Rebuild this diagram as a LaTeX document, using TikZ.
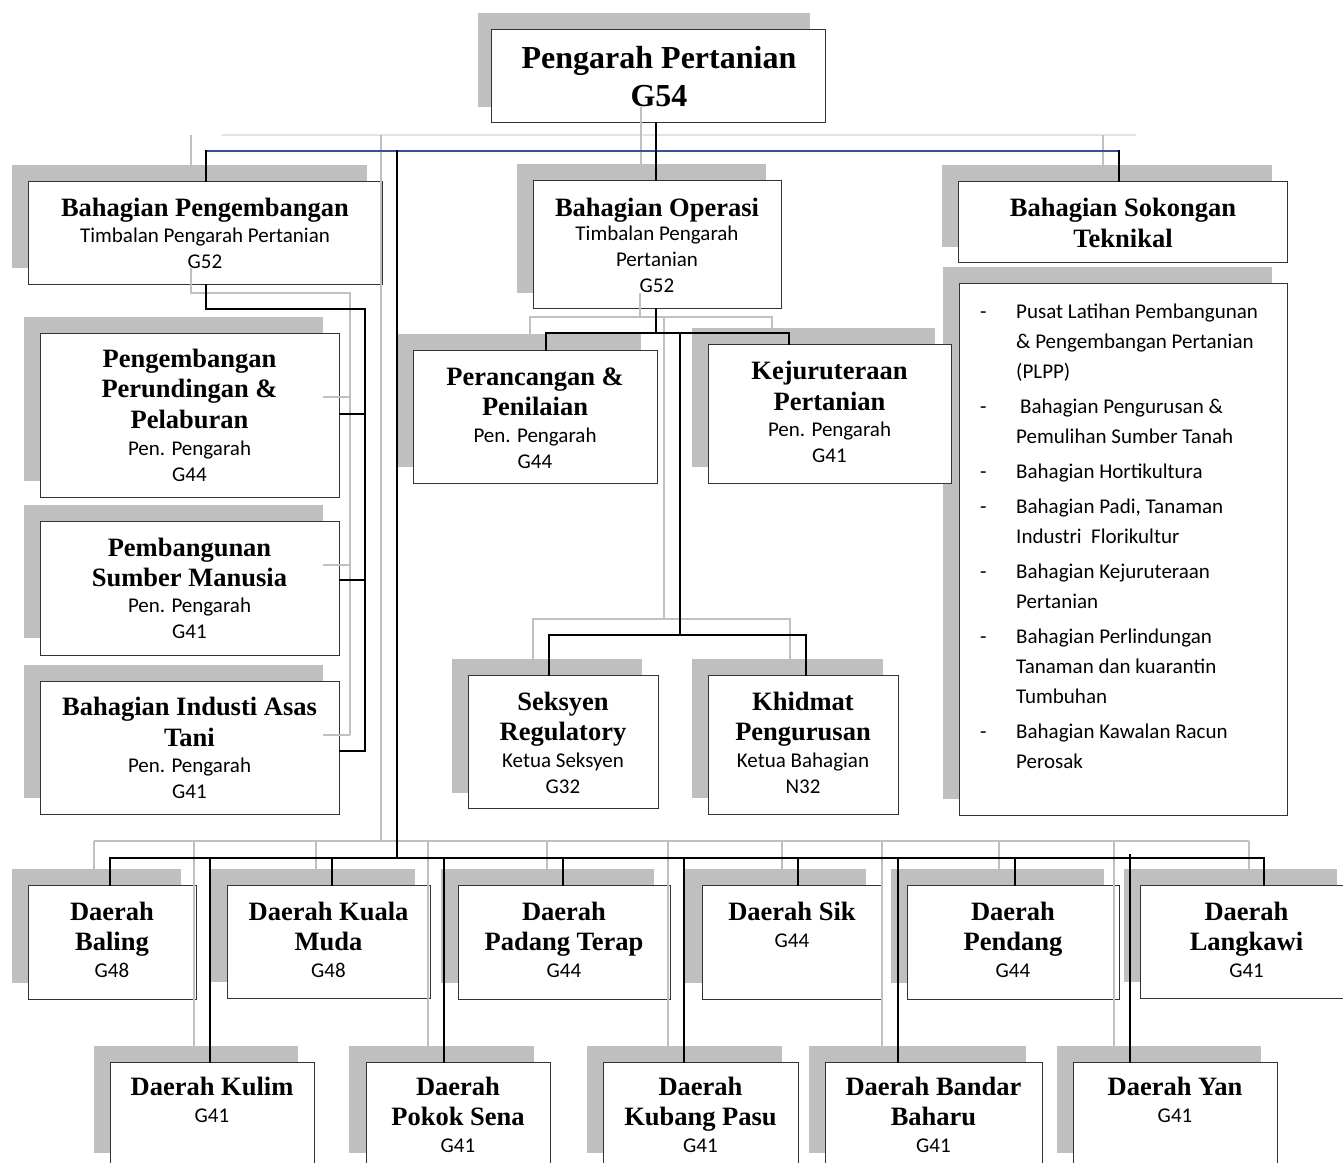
\documentclass[tikz,border=0pt]{standalone}
\usepackage{fontspec}
\setmainfont{Liberation Serif}
\newfontfamily\carl{Carlito}
\definecolor{shc}{HTML}{BFBFBF}
\definecolor{gcl}{HTML}{C0C0C0}
\definecolor{lgcl}{HTML}{E3E3E3}
\definecolor{bluec}{HTML}{2F5597}
\newcommand\mytt{\fontsize{32}{38}\selectfont\bfseries}
\newcommand\myhd{\fontsize{26.5}{30.5}\selectfont\bfseries}
\newcommand\mysb{\carl\fontsize{21}{26}\selectfont}
\newcommand\mylist{\carl\fontsize{21}{30}\selectfont}
\newcommand\orgbox[5]{\node[box, minimum width=#4pt-#2pt, minimum height=#5pt-#3pt] (#1) at (#2,#3) {};}
\newcommand\shd[4]{\fill[shc] (#1,#2) rectangle (#3,#4);}
\newcommand\hdt[4]{\node[hd] (#1) at (#2,#3-21.35) {\strut #4};}
\newcommand\sbt[4]{\node[sb] (#1) at (#2,#3-18.2) {\strut #4};}
\begin{document}
\begin{tikzpicture}[x=1pt,y=-1pt,
 box/.style={draw=black!80, line width=1.2pt, fill=white, inner sep=0pt, anchor=north west},
 tt/.style={font=\mytt, align=center, inner sep=0pt, anchor=north},
 hd/.style={font=\myhd, align=center, inner sep=0pt, anchor=north},
 sb/.style={font=\mysb, align=center, inner sep=0pt, anchor=north},
 conn/.style={line width=2pt, draw=black, line cap=rect},
 bconn/.style={line width=2pt, draw=bluec},
 gconn/.style={line width=1.6pt, draw=gcl},
 lconn/.style={line width=2pt, draw=lgcl}]
\useasboundingbox (0,0) rectangle (1343,1162);
\fill[white] (0,0) rectangle (1343,1162);
\clip (0,0) rectangle (1343,1162);
% shadows
\shd{478}{13}{810}{107}
\shd{12}{165}{367}{268}
\shd{517}{164}{766}{293}
\shd{942}{165}{1272}{247}
\shd{943}{267}{1272}{799}
\shd{24}{317}{323}{481}
\shd{24}{505}{323}{638}
\shd{24}{665}{323}{798}
\shd{397}{334}{641}{467}
\shd{692}{328}{935}{467}
\shd{452}{659}{642}{793}
\shd{692}{659}{883}{798}
\shd{12}{869}{181}{983}
\shd{211}{869}{415}{982}
\shd{441}{869}{654}{983}
\shd{685}{869}{866}{983}
\shd{891}{869}{1104}{983}
\shd{1124}{869}{1337}{982}
\shd{94}{1046}{298}{1153}
\shd{349}{1046}{534}{1153}
\shd{587}{1046}{782}{1153}
\shd{809}{1046}{1026}{1153}
\shd{1057}{1046}{1261}{1153}
% boxes
\orgbox{title}{491}{29}{825}{122}
\orgbox{peng}{28}{181}{382}{284}
\orgbox{oper}{533}{180}{781}{308}
\orgbox{sok}{958}{181}{1287}{262}
\orgbox{list}{959}{283}{1287}{815}
\orgbox{pa}{40}{333}{339}{497}
\orgbox{pb}{40}{521}{339}{655}
\orgbox{pc}{40}{681}{339}{814}
\orgbox{per}{413}{350}{657}{483}
\orgbox{kej}{708}{344}{951}{483}
\orgbox{sek}{468}{675}{658}{808}
\orgbox{khi}{708}{675}{898}{814}
\orgbox{baling}{28}{885}{196}{999}
\orgbox{kuala}{227}{885}{430}{998}
\orgbox{padang}{458}{885}{670}{999}
\orgbox{sik}{702}{885}{882}{999}
\orgbox{pendang}{907}{885}{1119}{999}
\orgbox{langkawi}{1140}{885}{1353}{998}
\orgbox{kulim}{110}{1062}{314}{1200}
\orgbox{pokok}{366}{1062}{550}{1200}
\orgbox{kubang}{603}{1062}{798}{1200}
\orgbox{bandar}{825}{1062}{1042}{1200}
\orgbox{yan}{1073}{1062}{1277}{1200}
% gray shadow connectors
\draw[lconn] (222,135) -- (1136,135);
\draw[gconn] (191,135) -- (191,165);
\draw[gconn] (641,107) -- (641,165);
\draw[gconn] (1103,135) -- (1103,165);
\draw[gconn] (381,135) -- (381,841);
\draw[gconn] (191,268) -- (191,293) -- (350,293) -- (350,735);
\foreach \y in {397,565,735} \draw[gconn] (323,\y) -- (350,\y);
\draw[gconn] (640,293) -- (640,317);
\draw[gconn] (530,334) -- (530,317) -- (772,317) -- (772,328);
\draw[gconn] (664,317) -- (664,619);
\draw[gconn] (533,659) -- (533,619) -- (790,619) -- (790,659);
\draw[gconn] (94,841) -- (1249,841);
\foreach \x/\e in {94/869,194/1046,316/869,428/1046,547/869,668/1046,782/869,882/1046,999/869,1114/1046,1249/869} \draw[gconn] (\x,841) -- (\x,\e);
% black connectors
\coordinate (bL) at (206,151);
\coordinate (bR) at (1119,151);
\draw[bconn] (bL) -- (bR);
\coordinate (jT) at (656,151);
\draw[conn] (jT |- title.south) -- (jT |- oper.north);
\draw[conn] (bL) -- (bL |- peng.north);
\draw[conn] (bR) -- (bR |- sok.north);
\coordinate (dT) at (397,151);
\coordinate (dB) at (397,858);
\draw[conn] (dT) -- (dB);
\coordinate (pj) at (206,309);
\coordinate (pk) at (365,309);
\coordinate (pe) at (365,751);
\draw[conn] (pj |- peng.south) -- (pj) -- (pk) -- (pe);
\foreach \n/\y in {pa/414,pb/580,pc/751}{\coordinate (t) at (365,\y); \draw[conn] (t) -- (t -| \n.east);}
\coordinate (oj) at (656,333);
\draw[conn] (oj |- oper.south) -- (oj);
\coordinate (oL) at (546,333);
\coordinate (oR) at (789,333);
\draw[conn] (oL) -- (oR);
\draw[conn] (oL) -- (oL |- per.north);
\draw[conn] (oR) -- (oR |- kej.north);
\coordinate (ov) at (680,333);
\coordinate (ow) at (680,635);
\draw[conn] (ov) -- (ow);
\coordinate (sL) at (549,635);
\coordinate (sR) at (806,635);
\draw[conn] (sL) -- (sR);
\draw[conn] (sL) -- (sL |- sek.north);
\draw[conn] (sR) -- (sR |- khi.north);
\coordinate (bbL) at (110,858);
\coordinate (bbR) at (1264,858);
\draw[conn] (bbL) -- (bbR);
\foreach \x/\n in {110/baling,210/kulim,332/kuala,444/pokok,563/padang,684/kubang,798/sik,898/bandar,1015/pendang,1264/langkawi}{\coordinate (t) at (\x,858); \draw[conn] (t) -- (t |- \n.north);}
\coordinate (yt) at (1130,855);
\draw[conn] (yt) -- (yt |- yan.north);
% texts
\node[tt] (titletxt) at (659,68-26.6) {\strut Pengarah Pertanian\\G54};
\hdt{pengh}{205}{216}{Bahagian Pengembangan}
\sbt{pengs}{205}{242}{Timbalan Pengarah Pertanian\\G52}
\hdt{operh}{657}{216}{Bahagian Operasi}
\sbt{opers}{657}{240.5}{Timbalan Pengarah\\Pertanian\\G52}
\hdt{sokh}{1123}{216.5}{Bahagian Sokongan\\Teknikal}
\hdt{pah}{189.5}{367}{Pengembangan\\Perundingan \&\\Pelaburan}
\sbt{pas}{189.5}{455.5}{Pen. Pengarah\\G44}
\hdt{pbh}{189.5}{556}{Pembangunan\\Sumber Manusia}
\sbt{pbs}{189.5}{612.5}{Pen. Pengarah\\G41}
\hdt{pch}{189.5}{715.5}{Bahagian Industi Asas\\Tani}
\sbt{pcs}{189.5}{772}{Pen. Pengarah\\G41}
\hdt{perh}{535}{385}{Perancangan \&\\Penilaian}
\sbt{pers}{535}{442}{Pen. Pengarah\\G44}
\hdt{kejh}{829.5}{379.5}{Kejuruteraan\\Pertanian}
\sbt{kejs}{829.5}{436}{Pen. Pengarah\\G41}
\hdt{sekh}{563}{710}{Seksyen\\Regulatory}
\sbt{seks}{563}{767}{Ketua Seksyen\\G32}
\hdt{khih}{803}{710}{Khidmat\\Pengurusan}
\sbt{khis}{803}{767}{Ketua Bahagian\\N32}
\hdt{balingh}{112}{920}{Daerah\\Baling}
\sbt{balings}{112}{977}{G48}
\hdt{kualah}{328.5}{920}{Daerah Kuala\\Muda}
\sbt{kualas}{328.5}{977}{G48}
\hdt{padangh}{564}{920}{Daerah\\Padang Terap}
\sbt{padangs}{564}{977}{G44}
\hdt{sikh}{792}{920}{Daerah Sik}
\sbt{siks}{792}{947}{G44}
\hdt{pendangh}{1013}{920}{Daerah\\Pendang}
\sbt{pendangs}{1013}{977}{G44}
\hdt{langkawih}{1246.5}{920}{Daerah\\Langkawi}
\sbt{langkawis}{1246.5}{977}{G41}
\hdt{kulimh}{212}{1095}{Daerah Kulim}
\sbt{kulims}{212}{1122}{G41}
\hdt{pokokh}{458}{1095}{Daerah\\Pokok Sena}
\sbt{pokoks}{458}{1152}{G41}
\hdt{kubangh}{700.5}{1095}{Daerah\\Kubang Pasu}
\sbt{kubangs}{700.5}{1152}{G41}
\hdt{bandarh}{933.5}{1095}{Daerah Bandar\\Baharu}
\sbt{bandars}{933.5}{1152}{G41}
\hdt{yanh}{1175}{1095}{Daerah Yan}
\sbt{yans}{1175}{1122}{G41}
\node[anchor=north west, inner sep=0pt, font=\mylist] (listtxt) at (980,318-21) {%
\begin{tabular}{@{}l@{}}
\makebox[36pt][l]{-}Pusat Latihan Pembangunan\\
\hspace*{36pt}\& Pengembangan Pertanian\\
\hspace*{36pt}(PLPP)\\[5pt]
\makebox[36pt][l]{-}\hspace*{4pt}Bahagian Pengurusan \&\\
\hspace*{36pt}Pemulihan Sumber Tanah\\[5pt]
\makebox[36pt][l]{-}Bahagian Hortikultura\\[5pt]
\makebox[36pt][l]{-}Bahagian Padi, Tanaman\\
\hspace*{36pt}Industri\ \ Florikultur\\[5pt]
\makebox[36pt][l]{-}Bahagian Kejuruteraan\\
\hspace*{36pt}Pertanian\\[5pt]
\makebox[36pt][l]{-}Bahagian Perlindungan\\
\hspace*{36pt}Tanaman dan kuarantin\\
\hspace*{36pt}Tumbuhan\\[5pt]
\makebox[36pt][l]{-}Bahagian Kawalan Racun\\
\hspace*{36pt}Perosak
\end{tabular}};
\end{tikzpicture}
\end{document}
